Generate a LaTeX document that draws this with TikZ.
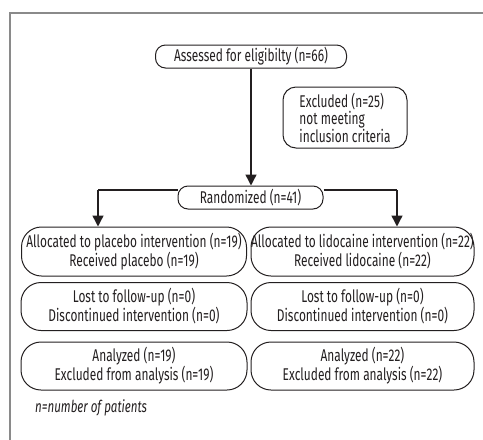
\documentclass[tikz,border=0pt]{standalone}
\usepackage{fontspec}
\setmainfont{Fira Sans}[FakeStretch=0.70]
\usetikzlibrary{arrows.meta}
\definecolor{ink}{HTML}{231F20}
\definecolor{framec}{HTML}{8A8A8A}
\tikzset{
  box/.style={draw=ink, line width=1pt, inner sep=0pt, align=center, text=ink,
    font=\fontsize{17}{19}\selectfont},
  smallbox/.style={box, rounded corners=10pt, minimum height=23pt},
  bigbox/.style={box, rounded corners=20pt},
  conn/.style={draw=ink, line width=1.4pt},
  arr/.style={conn, -{Triangle[width=11pt,length=11pt]}},
}
\begin{document}
\begin{tikzpicture}[x=1pt,y=-1pt]
\useasboundingbox (0,0) rectangle (483,440);
\draw[framec, line width=1.2pt] (10,441) -- (10,13) -- (484,13);

\node[smallbox, minimum width=191pt] (assess) at (251,56.5) {Assessed for eligibilty (n=66)};
\node[box, rounded corners=13pt, minimum width=124pt, minimum height=61pt, align=left,
      font=\fontsize{17}{17.5}\selectfont] (excl) at (345,117.5)
  {Excluded (n=25)\\not meeting\\inclusion criteria};
\node[smallbox, minimum width=145pt] (rand) at (250.5,197.5) {Randomized (n=41)};

\node[bigbox, minimum width=225pt, minimum height=49pt] (a1) at (134,251.5)
  {Allocated to placebo intervention (n=19)\\Received placebo (n=19)};
\node[bigbox, minimum width=223pt, minimum height=49pt] (b1) at (362.5,251.5)
  {Allocated to lidocaine intervention (n=22)\\Received lidocaine (n=22)};
\node[bigbox, minimum width=226pt, minimum height=48pt] (a2) at (134,306.5)
  {Lost to follow-up (n=0)\\Discontinued intervention (n=0)};
\node[bigbox, minimum width=223pt, minimum height=48pt] (b2) at (362.5,306.5)
  {Lost to follow-up (n=0)\\Discontinued intervention (n=0)};
\node[bigbox, minimum width=226pt, minimum height=48pt] (a3) at (134,366)
  {Analyzed (n=19)\\Excluded from analysis (n=19)};
\node[bigbox, minimum width=223pt, minimum height=48pt] (b3) at (362.5,366)
  {Analyzed (n=22)\\Excluded from analysis (n=22)};

\node[anchor=west, inner sep=0pt, text=ink, font=\fontsize{16.5}{16}\selectfont\itshape] (note) at (35,408)
  {n=number of patients};

\coordinate (lb) at (98,190);
\coordinate (rb) at (397,190);

\draw[arr] (assess.south) -- (assess.south |- rand.north);
\draw[conn] (rand.west |- lb) -- (lb);
\draw[arr] (lb) -- (lb |- a1.north);
\draw[conn] (rand.east |- rb) -- (rb);
\draw[arr] (rb) -- (rb |- b1.north);
\end{tikzpicture}
\end{document}
